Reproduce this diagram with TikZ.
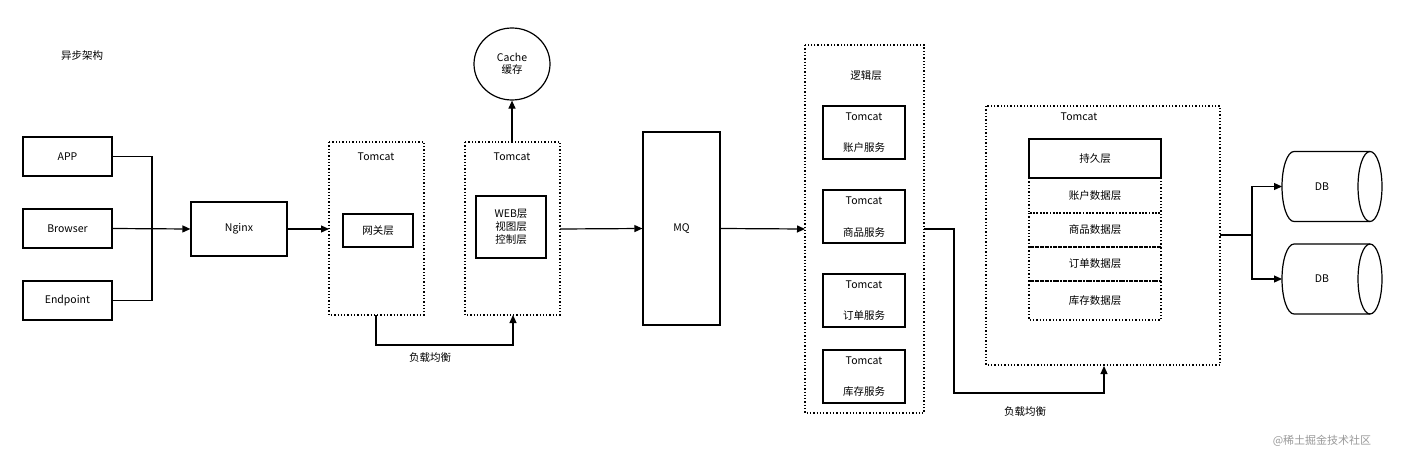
\documentclass[tikz,border=0pt]{standalone}
\usepackage{fontspec}
\setmainfont{Noto Sans CJK SC}
\usetikzlibrary{arrows.meta,shapes.geometric}
\begin{document}
\begin{tikzpicture}[x=1pt,y=-1pt,
  box/.style={draw,line width=1.2pt,align=center,font=\fontsize{10.5}{12}\selectfont},
  dbox/.style={draw,line width=1.3pt,dotted},
  lab/.style={font=\fontsize{10.5}{12}\selectfont,align=center},
  arr/.style={line width=1.2pt,-{Triangle[length=8pt,width=7pt]}},
  ln/.style={line width=1.2pt}]
\useasboundingbox (0,0) rectangle (1408,458);
\node[lab] (title) at (82,56) {异步架构};
\node[box,minimum width=89pt,minimum height=39pt] (app) at (67.5,156.5) {APP};
\node[box,minimum width=89pt,minimum height=39pt] (br) at (67.5,228.5) {Browser};
\node[box,minimum width=89pt,minimum height=39pt] (ep) at (67.5,300.5) {Endpoint};
\node[box,minimum width=96pt,minimum height=54pt] (ng) at (239,229) {Nginx};
\coordinate (m) at (152,229);
\draw[ln] (app.east) -| (m);
\draw[ln] (ep.east) -| (m);
\draw[arr] (br.east) -- (ng.west);
% tomcat 1
\draw[dbox] (329,142) rectangle (424,315);
\coordinate (t1w) at (329,229); \coordinate (t1s) at (376,315);
\node[lab] (t1l) at (376,157) {Tomcat};
\node[box,minimum width=70pt,minimum height=33pt] (gw) at (378,230.5) {网关层};
\draw[arr] (ng.east) -- (t1w);
% tomcat 2
\draw[dbox] (465,142) rectangle (560,315);
\coordinate (t2e) at (560,229); \coordinate (t2s) at (513,315); \coordinate (t2n) at (512,142);
\node[lab] (t2l) at (512,157) {Tomcat};
\node[box,minimum width=70pt,minimum height=62pt,inner sep=1pt,font=\fontsize{10.5}{13}\selectfont] (web) at (511,227) {WEB层\\视图层\\控制层};
\node[draw,line width=1.2pt,ellipse,minimum width=76pt,minimum height=72pt,inner sep=0pt,lab] (cache) at (512,64) {Cache\\缓存};
\draw[arr] (t2n) -- (cache.south);
\draw[arr] (t1s) -- (376,345) -- (513,345) -- (t2s);
\node[lab] (lb1) at (430,358) {负载均衡};
% MQ
\node[box,minimum width=77pt,minimum height=193pt] (mq) at (681.5,228.5) {MQ};
\draw[arr] (t2e) -- (mq.west);
% logic
\draw[dbox] (805,45) rectangle (924,413);
\coordinate (lw) at (805,229); \coordinate (le) at (924,229);
\draw[arr] (mq.east) -- (lw);
\node[lab] (logic) at (866,76) {逻辑层};
\foreach \y/\t [count=\i] in {106/账户服务,190/商品服务,274/订单服务,350/库存服务}{
  \draw[line width=1.2pt] (823,\y) rectangle (905,\y+53);
  \node[lab] (s\i a) at (864,\y+11) {Tomcat};
  \node[lab] (s\i b) at (864,\y+42) {\t};
}
% tomcat 3
\draw[dbox] (986,106) rectangle (1220,365);
\coordinate (t3s) at (1104,366); \coordinate (t3e) at (1220,235);
\node[lab] (t3l) at (1079,117) {Tomcat};
\draw[arr] (le) -- (954,229) -- (954,393) -- (1104,393) -- (t3s);
\node[lab] (lb2) at (1025,412) {负载均衡};
\node[box,minimum width=132pt,minimum height=39pt] (pl) at (1095,158.5) {持久层};
\foreach \a/\b/\t [count=\i] in {178/213/账户数据层,213/247/商品数据层,247/281/订单数据层,281/320/库存数据层}{
  \draw[dbox] (1029,\a) rectangle (1161,\b);
  \node[lab] (d\i) at (1095,{(\a+\b)/2}) {\t};
}
% DB
\foreach \yc/\n in {186.5/db1,279/db2}{
  \begin{scope}[shift={(1332,\yc)},y=1pt]
  \draw[line width=1.2pt] (38,35) -- (-38,35) arc[start angle=90,end angle=270,x radius=12,y radius=35] -- (38,-35);
  \draw[line width=1.2pt] (38,0) ellipse[x radius=12,y radius=35];
  \end{scope}
  \node[lab] (\n) at (1322,\yc) {DB};
  \coordinate (\n w) at (1282,\yc);
}
\coordinate (sp) at (1252,235);
\draw[ln] (t3e) -- (sp);
\draw[arr] (sp) |- (db1w);
\draw[arr] (sp) |- (db2w);
\node[font=\fontsize{11}{13}\selectfont,text=black!40] (wm) at (1322,441) {@稀土掘金技术社区};
\end{tikzpicture}
\end{document}
